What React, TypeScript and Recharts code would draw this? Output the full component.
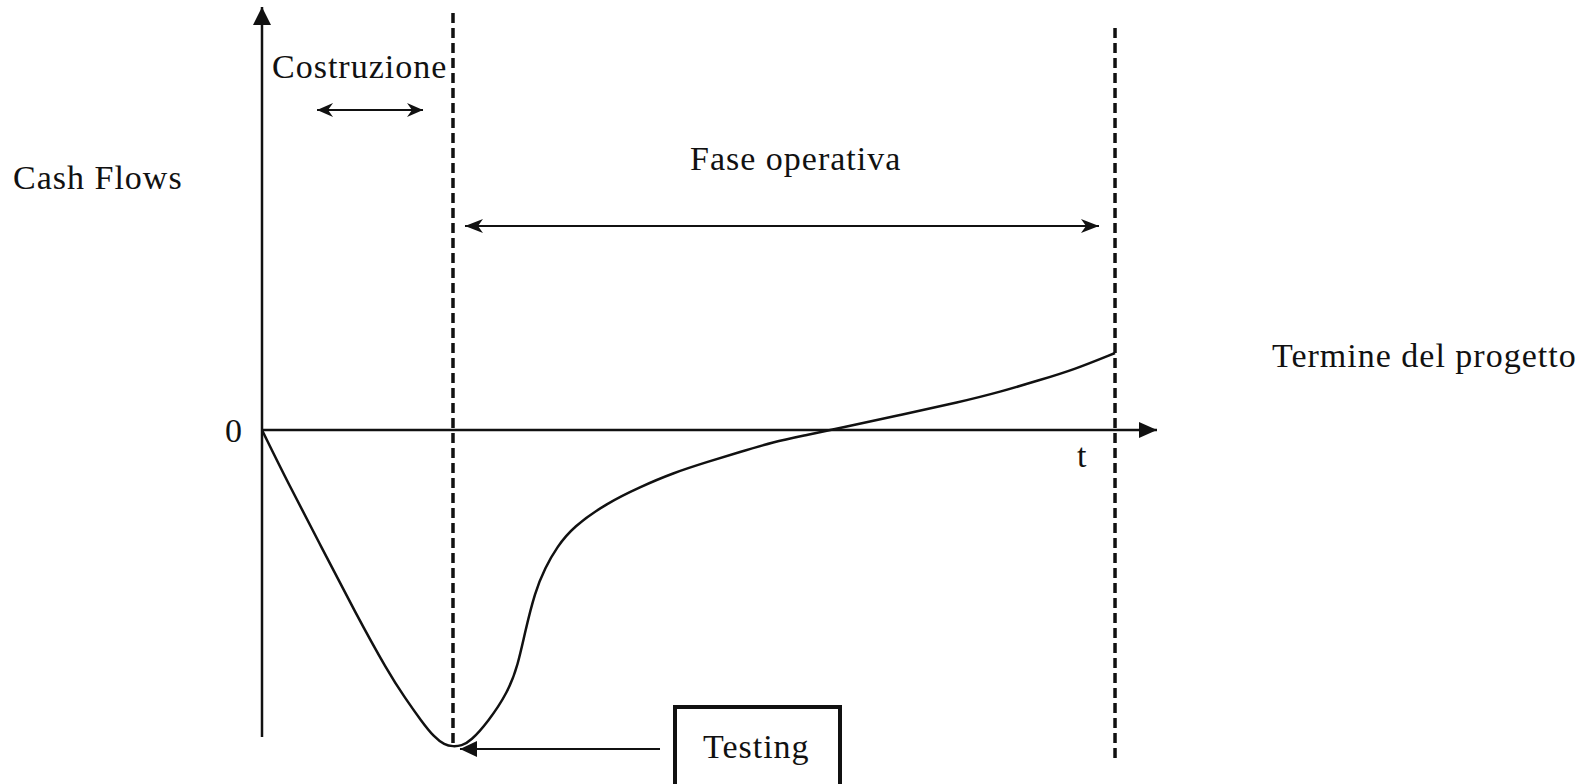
import React from "react";
import { LineChart, Line, XAxis, YAxis, ReferenceLine } from "recharts";

// Time axis (t, arbitrary units 0..100) and cash flow (arbitrary units)
const CURVE_T = [0, 2.91, 6.7, 10.39, 14.08, 15.98, 17.88, 19.2, 20.4, 21.34, 22.3, 23.3, 25.25, 27.49, 28.6, 29.39, 30.5, 31.62, 32.96, 34.75, 38.55, 42.23, 45.92, 49.72, 53.41, 57.09, 60.89, 64.58, 71.28, 77.99, 82.46, 86.93, 90.61, 95.31];
const CURVE_CF = [0, -7.07, -15.73, -24.27, -32.27, -35.73, -38.93, -40.9, -42.0, -42.2, -42.1, -41.5, -38.93, -34.93, -31.33, -26.93, -21.6, -18.4, -15.6, -12.93, -9.73, -7.6, -5.73, -4.27, -2.93, -1.6, -0.67, 0.27, 2.0, 3.73, 5.07, 6.67, 8.0, 10.27];

const CONSTRUCTION_END = 21.34;
const PROJECT_END = 95.31;
const T_MAX = 100;
const CF_DOMAIN: [number, number] = [-44, 56];

const LABELS = {
  yAxis: "Cash Flows",
  zero: "0",
  t: "t",
  build: "Costruzione",
  ops: "Fase operativa",
  end: "Termine del progetto",
  testing: "Testing",
};

const data = CURVE_T.map((t, i) => ({ t, cf: CURVE_CF[i] }));

const INK = "#111";
const FONT = "'Liberation Serif', 'Times New Roman', serif";

type HeadKind = "none" | "tri" | "barb";

function headPath(tx: number, ty: number, dx: number, dy: number, kind: HeadKind, L: number, W: number) {
  const len = Math.hypot(dx, dy) || 1;
  const ux = dx / len;
  const uy = dy / len;
  const nx = -uy;
  const ny = ux;
  const bx = tx - ux * L;
  const by = ty - uy * L;
  if (kind === "tri") {
    return `M${tx},${ty} L${bx + nx * W},${by + ny * W} L${bx - nx * W},${by - ny * W} Z`;
  }
  const mx = tx - ux * (L - 5);
  const my = ty - uy * (L - 5);
  return `M${tx},${ty} L${bx + nx * W},${by + ny * W} L${mx},${my} L${bx - nx * W},${by - ny * W} Z`;
}

const arrowShape = (start: HeadKind, end: HeadKind, sw: number, L: number, W: number) => (props: any) => {
  const { x1, y1, x2, y2 } = props;
  const dx = x2 - x1;
  const dy = y2 - y1;
  return (
    <g>
      <line x1={x1} y1={y1} x2={x2} y2={y2} stroke={INK} strokeWidth={sw} />
      {end !== "none" && <path d={headPath(x2, y2, dx, dy, end, L, W)} fill={INK} />}
      {start !== "none" && <path d={headPath(x1, y1, -dx, -dy, start, L, W)} fill={INK} />}
    </g>
  );
};

const textStyle = { fontFamily: FONT, fontSize: 34, letterSpacing: 1, fill: INK } as const;

export default function App() {
  return (
    <div style={{ position: "absolute", left: 0, top: 0, width: 1595, height: 784, background: "#fff" }}>
      <LineChart
        width={1595}
        height={784}
        data={data}
        margin={{ top: 10, right: 438, bottom: 24, left: 262 }}
      >
        <XAxis dataKey="t" type="number" domain={[0, T_MAX]} hide />
        <YAxis type="number" domain={CF_DOMAIN} hide allowDataOverflow />

        {/* axes with arrowheads */}
        <ReferenceLine
          segment={[{ x: 0, y: -40.93 }, { x: 0, y: 56.4 }]}
          ifOverflow="visible"
          shape={arrowShape("none", "tri", 2.5, 18, 9)}
        />
        <ReferenceLine
          segment={[{ x: 0, y: 0 }, { x: T_MAX, y: 0 }]}
          ifOverflow="visible"
          shape={arrowShape("none", "tri", 2.5, 18, 8)}
        />

        {/* phase boundaries */}
        <ReferenceLine
          segment={[{ x: CONSTRUCTION_END, y: 55.6 }, { x: CONSTRUCTION_END, y: -42.0 }]}
          ifOverflow="visible"
          stroke={INK}
          strokeWidth={3.5}
          strokeDasharray="10 5"
        />
        <ReferenceLine
          segment={[{ x: PROJECT_END, y: 53.6 }, { x: PROJECT_END, y: -43.73 }]}
          ifOverflow="visible"
          stroke={INK}
          strokeWidth={3.5}
          strokeDasharray="10 5"
        />

        {/* phase arrows */}
        <ReferenceLine
          segment={[{ x: 6.15, y: 42.67 }, { x: 17.99, y: 42.67 }]}
          ifOverflow="visible"
          shape={arrowShape("barb", "barb", 2, 16, 7)}
        />
        <ReferenceLine
          segment={[{ x: 22.68, y: 27.2 }, { x: 93.52, y: 27.2 }]}
          ifOverflow="visible"
          shape={arrowShape("barb", "barb", 2, 18, 7)}
        />
        <ReferenceLine
          segment={[{ x: 44.47, y: -42.53 }, { x: 22.12, y: -42.53 }]}
          ifOverflow="visible"
          shape={arrowShape("none", "tri", 2, 17, 8)}
        />

        <Line
          type="basis"
          dataKey="cf"
          stroke={INK}
          strokeWidth={2.5}
          dot={false}
          activeDot={false}
          isAnimationActive={false}
        />

        <g>
          <text x={272} y={78} {...textStyle}>{LABELS.build}</text>
          <text x={13} y={189} {...textStyle}>{LABELS.yAxis}</text>
          <text x={690} y={170} {...textStyle}>{LABELS.ops}</text>
          <text x={1272} y={367} {...textStyle}>{LABELS.end}</text>
          <text x={225} y={442} {...textStyle}>{LABELS.zero}</text>
          <text x={1077} y={467} {...textStyle}>{LABELS.t}</text>
          <rect x={675} y={707} width={165} height={100} fill="none" stroke={INK} strokeWidth={4} />
          <text x={703} y={758} {...textStyle}>{LABELS.testing}</text>
        </g>
      </LineChart>
    </div>
  );
}
